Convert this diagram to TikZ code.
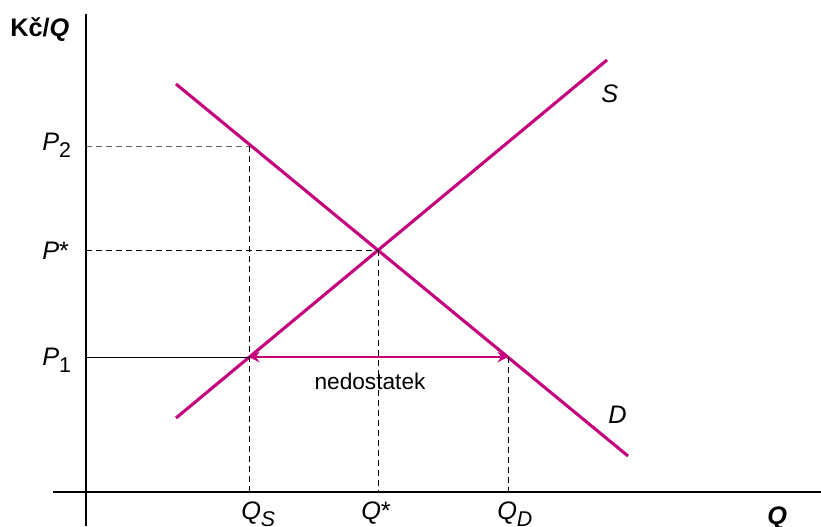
\documentclass[tikz,border=0pt]{standalone}
\usepackage{fontspec}
\setmainfont{Liberation Sans}
\usetikzlibrary{arrows.meta,positioning}
\definecolor{curvemag}{RGB}{198,0,124}
\newcommand{\lowsub}[1]{\raisebox{-5.5pt}{\fontsize{16}{16}\selectfont #1}}

\begin{document}
\begin{tikzpicture}[
      x=0.75pt, y=-0.75pt, font=\fontsize{17}{20}\selectfont,
      axis/.style={draw=black, line width=1.3pt},
      curve/.style={draw=curvemag, line width=2.3pt},
      gap/.style={draw=curvemag, line width=1.9pt,
          {Stealth[length=8pt,width=8pt,inset=3pt]}-{Stealth[length=8pt,width=8pt,inset=3pt]}},
      guide/.style={draw=black, line width=0.75pt, dash pattern=on 4.5pt off 3pt},
      lbl/.style={anchor=base west, inner sep=0pt, font=\fontsize{19}{22}\selectfont}
  ]
  \useasboundingbox (0,0) rectangle (821,526);
  % axes
  \coordinate (ytop) at (86,14);
  \coordinate (ybot) at (86,526);
  \coordinate (xleft) at (53,492);
  \coordinate (xright) at (821,492);
  \draw[axis] (ytop) -- (ybot);
  \draw[axis] (xleft) -- (xright);
  \node[lbl] (ylab) at (10,36) {\textbf{Kč/\textit{Q}}};
  \node[lbl] (xlab) at (767,524) {\textbf{\textit{Q}}};
  % supply and demand
  \coordinate (s0) at (176,418);
  \coordinate (s1) at (607,60);
  \coordinate (d0) at (176,84);
  \coordinate (d1) at (628,456);
  \draw[curve, line cap=butt] (s0) -- (s1);
  \draw[curve, line cap=butt] (d0) -- (d1);
  \node[lbl] (slab) at (601,102) {\textit{S}};
  \node[lbl] (dlab) at (608,423) {\textit{D}};
  % points on the curves
  \coordinate (high) at (249,146);
  \coordinate (eq) at (378,250);
  \coordinate (qs) at (249,357);
  \coordinate (qd) at (508,357);
  % guides to the axes
  \draw[guide, draw=black!60] (ytop |- high) -- (high);
  \draw[guide] (high) -- (high |- xleft);
  \draw[guide] (ytop |- eq) -- (eq);
  \draw[guide] (eq) -- (eq |- xleft);
  \draw[black, line width=0.75pt] (ytop |- qs) -- (qs);
  \draw[guide] (qd) -- (qd |- xleft);
  \draw[gap] (qs) -- (qd);
  \node (short) at (370,381) {nedostatek};
  % price and quantity labels
  \node[lbl] (p2) at (42,150) {\textit{P}\lowsub{2}};
  \node[lbl] (pstar) at (42,259) {\textit{P}*};
  \node[lbl] (p1) at (42,365) {\textit{P}\lowsub{1}};
  \node[lbl] (qslab) at (241,519) {\textit{Q}\lowsub{\textit{S}}};
  \node[lbl] (qstar) at (361,519) {\textit{Q}*};
  \node[lbl] (qdlab) at (497,519) {\textit{Q}\lowsub{\textit{D}}};
\end{tikzpicture}
\end{document}
